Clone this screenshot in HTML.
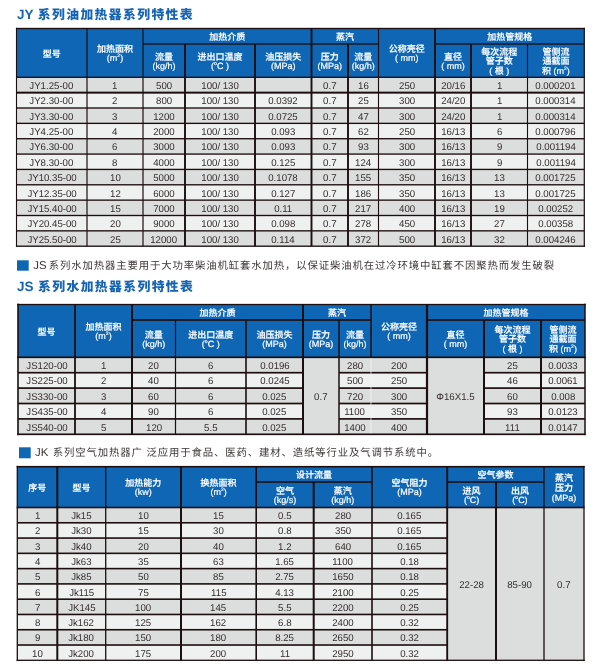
<!DOCTYPE html>
<html lang="zh-CN"><head><meta charset="utf-8"><title>加热器系列特性表</title>
<style>
html,body{margin:0;padding:0;background:#fff}
body{width:600px;height:670px;position:relative;overflow:hidden;font-family:"Liberation Sans","Noto Sans CJK SC",sans-serif;color:#2e2a2a}
svg{position:absolute;left:0;top:0}
.c{text-rendering:geometricPrecision;position:absolute;display:flex;align-items:center;justify-content:center;text-align:center;white-space:nowrap}
.d{font-size:9.8px;line-height:10px;color:#342e2e}
.d span{display:inline-block;transform:scaleX(.985)}
.h{font-size:9px;line-height:9px;color:#fff;font-weight:500;-webkit-text-stroke:.2px #fff}
.l3{line-height:9.4px}
.l4{line-height:10px}
.h sup{font-size:5px;line-height:0;vertical-align:4.2px}
.h sup.o{font-size:5px;vertical-align:4px}
.t{position:absolute;white-space:nowrap;font-weight:bold;font-size:13.5px;line-height:16px;color:#1563b3;text-rendering:geometricPrecision}
.t b{font-size:12.8px;letter-spacing:1.4px;margin-left:.8px}
.n{position:absolute;white-space:nowrap;font-size:11.4px;line-height:14px;font-weight:400;color:#3b3636;text-rendering:geometricPrecision}
.n i{font-style:normal;font-size:10.4px;letter-spacing:.86px;margin-left:-1px}
</style></head><body>
<svg width="600" height="670" viewBox="0 0 600 670">
<rect x="16.50" y="28.50" width="567.80" height="48.80" fill="#0e66b5"/>
<rect x="16.50" y="77.30" width="567.80" height="15.35" fill="#dcdddd"/>
<rect x="16.50" y="92.65" width="567.80" height="15.35" fill="#eff0f0"/>
<rect x="16.50" y="108.01" width="567.80" height="15.35" fill="#dcdddd"/>
<rect x="16.50" y="123.36" width="567.80" height="15.35" fill="#eff0f0"/>
<rect x="16.50" y="138.72" width="567.80" height="15.35" fill="#dcdddd"/>
<rect x="16.50" y="154.07" width="567.80" height="15.35" fill="#eff0f0"/>
<rect x="16.50" y="169.43" width="567.80" height="15.35" fill="#dcdddd"/>
<rect x="16.50" y="184.78" width="567.80" height="15.35" fill="#eff0f0"/>
<rect x="16.50" y="200.14" width="567.80" height="15.35" fill="#dcdddd"/>
<rect x="16.50" y="215.49" width="567.80" height="15.35" fill="#eff0f0"/>
<rect x="16.50" y="230.85" width="567.80" height="15.35" fill="#dcdddd"/>
<rect x="18.00" y="304.50" width="567.00" height="52.80" fill="#0e66b5"/>
<rect x="18.00" y="357.30" width="567.00" height="15.40" fill="#dcdddd"/>
<rect x="18.00" y="372.70" width="567.00" height="15.40" fill="#eff0f0"/>
<rect x="18.00" y="388.10" width="567.00" height="15.40" fill="#dcdddd"/>
<rect x="18.00" y="403.50" width="567.00" height="15.40" fill="#eff0f0"/>
<rect x="18.00" y="418.90" width="567.00" height="15.40" fill="#dcdddd"/>
<rect x="303.00" y="357.30" width="36.00" height="77.00" fill="#dcdddd"/>
<rect x="427.00" y="357.30" width="57.00" height="77.00" fill="#dcdddd"/>
<rect x="17.30" y="466.70" width="566.70" height="40.80" fill="#0e66b5"/>
<rect x="17.30" y="507.50" width="566.70" height="15.28" fill="#dcdddd"/>
<rect x="17.30" y="522.78" width="566.70" height="15.28" fill="#eff0f0"/>
<rect x="17.30" y="538.06" width="566.70" height="15.28" fill="#dcdddd"/>
<rect x="17.30" y="553.34" width="566.70" height="15.28" fill="#eff0f0"/>
<rect x="17.30" y="568.62" width="566.70" height="15.28" fill="#dcdddd"/>
<rect x="17.30" y="583.90" width="566.70" height="15.28" fill="#eff0f0"/>
<rect x="17.30" y="599.18" width="566.70" height="15.28" fill="#dcdddd"/>
<rect x="17.30" y="614.46" width="566.70" height="15.28" fill="#eff0f0"/>
<rect x="17.30" y="629.74" width="566.70" height="15.28" fill="#dcdddd"/>
<rect x="17.30" y="645.02" width="566.70" height="15.28" fill="#eff0f0"/>
<rect x="447.20" y="507.50" width="48.80" height="152.80" fill="#dcdddd"/>
<rect x="496.00" y="507.50" width="48.00" height="152.80" fill="#dcdddd"/>
<rect x="544.00" y="507.50" width="40.00" height="152.80" fill="#dcdddd"/>
<rect x="17.00" y="260.30" width="11.70" height="10.40" fill="#0e66b5"/>
<rect x="19.00" y="447.30" width="11.70" height="11.00" fill="#0e66b5"/>
<rect x="15.95" y="27.82" width="568.95" height="1.35" fill="#1d0f0f"/>
<rect x="143.00" y="43.33" width="168.50" height="1.35" fill="#1d0f0f"/>
<rect x="311.50" y="43.33" width="67.00" height="1.35" fill="#1d0f0f"/>
<rect x="435.00" y="43.33" width="149.30" height="1.35" fill="#1d0f0f"/>
<rect x="15.95" y="76.62" width="568.95" height="1.35" fill="#1d0f0f"/>
<rect x="16.50" y="91.65" width="567.80" height="2.00" fill="#1d0f0f"/>
<rect x="16.50" y="107.33" width="567.80" height="1.35" fill="#1d0f0f"/>
<rect x="16.50" y="122.69" width="567.80" height="1.35" fill="#1d0f0f"/>
<rect x="16.50" y="138.04" width="567.80" height="1.35" fill="#1d0f0f"/>
<rect x="16.50" y="153.40" width="567.80" height="1.35" fill="#1d0f0f"/>
<rect x="16.50" y="168.75" width="567.80" height="1.35" fill="#1d0f0f"/>
<rect x="16.50" y="184.11" width="567.80" height="1.35" fill="#1d0f0f"/>
<rect x="16.50" y="199.46" width="567.80" height="1.35" fill="#1d0f0f"/>
<rect x="16.50" y="214.82" width="567.80" height="1.35" fill="#1d0f0f"/>
<rect x="16.50" y="230.17" width="567.80" height="1.35" fill="#1d0f0f"/>
<rect x="15.95" y="245.52" width="568.95" height="1.35" fill="#1d0f0f"/>
<rect x="15.95" y="27.82" width="1.10" height="219.05" fill="#1d0f0f"/>
<rect x="86.40" y="28.50" width="1.20" height="217.70" fill="#1d0f0f"/>
<rect x="142.40" y="28.50" width="1.20" height="217.70" fill="#1d0f0f"/>
<rect x="184.05" y="44.00" width="1.90" height="202.20" fill="#1d0f0f"/>
<rect x="254.05" y="44.00" width="1.90" height="202.20" fill="#1d0f0f"/>
<rect x="310.55" y="28.50" width="1.90" height="217.70" fill="#1d0f0f"/>
<rect x="347.05" y="44.00" width="1.90" height="202.20" fill="#1d0f0f"/>
<rect x="377.95" y="28.50" width="1.10" height="217.70" fill="#1d0f0f"/>
<rect x="434.05" y="28.50" width="1.90" height="217.70" fill="#1d0f0f"/>
<rect x="470.05" y="44.00" width="1.90" height="202.20" fill="#1d0f0f"/>
<rect x="526.95" y="44.00" width="1.10" height="202.20" fill="#1d0f0f"/>
<rect x="583.70" y="27.82" width="1.20" height="219.05" fill="#1d0f0f"/>
<rect x="17.20" y="303.85" width="568.55" height="1.30" fill="#1d0f0f"/>
<rect x="132.00" y="319.15" width="171.00" height="1.70" fill="#1d0f0f"/>
<rect x="303.00" y="319.15" width="68.00" height="1.70" fill="#1d0f0f"/>
<rect x="427.00" y="319.15" width="158.00" height="1.70" fill="#1d0f0f"/>
<rect x="17.20" y="356.45" width="568.55" height="1.70" fill="#1d0f0f"/>
<rect x="18.00" y="371.85" width="285.00" height="1.70" fill="#1d0f0f"/>
<rect x="339.00" y="371.85" width="88.00" height="1.70" fill="#1d0f0f"/>
<rect x="484.00" y="371.85" width="101.00" height="1.70" fill="#1d0f0f"/>
<rect x="18.00" y="387.25" width="285.00" height="1.70" fill="#1d0f0f"/>
<rect x="339.00" y="387.25" width="88.00" height="1.70" fill="#1d0f0f"/>
<rect x="484.00" y="387.25" width="101.00" height="1.70" fill="#1d0f0f"/>
<rect x="18.00" y="402.65" width="285.00" height="1.70" fill="#1d0f0f"/>
<rect x="339.00" y="402.65" width="88.00" height="1.70" fill="#1d0f0f"/>
<rect x="484.00" y="402.65" width="101.00" height="1.70" fill="#1d0f0f"/>
<rect x="18.00" y="418.05" width="285.00" height="1.70" fill="#1d0f0f"/>
<rect x="339.00" y="418.05" width="88.00" height="1.70" fill="#1d0f0f"/>
<rect x="484.00" y="418.05" width="101.00" height="1.70" fill="#1d0f0f"/>
<rect x="17.20" y="433.45" width="568.55" height="1.70" fill="#1d0f0f"/>
<rect x="17.20" y="303.65" width="1.60" height="131.50" fill="#1d0f0f"/>
<rect x="74.10" y="304.50" width="1.80" height="129.80" fill="#1d0f0f"/>
<rect x="131.00" y="304.50" width="2.00" height="129.80" fill="#1d0f0f"/>
<rect x="174.90" y="320.00" width="1.20" height="114.30" fill="#1d0f0f"/>
<rect x="245.20" y="320.00" width="1.60" height="114.30" fill="#1d0f0f"/>
<rect x="302.00" y="304.50" width="2.00" height="129.80" fill="#1d0f0f"/>
<rect x="338.25" y="320.00" width="1.50" height="114.30" fill="#1d0f0f"/>
<rect x="370.25" y="304.50" width="1.50" height="52.80" fill="#1d0f0f"/>
<rect x="370.65" y="358.15" width="0.70" height="75.30" fill="#f4f4f4"/>
<rect x="425.90" y="304.50" width="2.20" height="129.80" fill="#1d0f0f"/>
<rect x="483.00" y="320.00" width="2.00" height="114.30" fill="#1d0f0f"/>
<rect x="540.00" y="320.00" width="2.00" height="114.30" fill="#1d0f0f"/>
<rect x="584.25" y="303.65" width="1.50" height="131.50" fill="#1d0f0f"/>
<rect x="16.65" y="465.90" width="568.00" height="1.60" fill="#1d0f0f"/>
<rect x="256.20" y="481.20" width="115.80" height="1.60" fill="#1d0f0f"/>
<rect x="447.20" y="481.20" width="96.80" height="1.60" fill="#1d0f0f"/>
<rect x="16.65" y="506.70" width="568.00" height="1.60" fill="#1d0f0f"/>
<rect x="17.30" y="521.98" width="429.90" height="1.60" fill="#1d0f0f"/>
<rect x="17.30" y="537.26" width="429.90" height="1.60" fill="#1d0f0f"/>
<rect x="17.30" y="552.54" width="429.90" height="1.60" fill="#1d0f0f"/>
<rect x="17.30" y="567.82" width="429.90" height="1.60" fill="#1d0f0f"/>
<rect x="17.30" y="583.10" width="429.90" height="1.60" fill="#1d0f0f"/>
<rect x="17.30" y="598.38" width="429.90" height="1.60" fill="#1d0f0f"/>
<rect x="17.30" y="613.66" width="429.90" height="1.60" fill="#1d0f0f"/>
<rect x="17.30" y="628.94" width="429.90" height="1.60" fill="#1d0f0f"/>
<rect x="17.30" y="644.22" width="429.90" height="1.60" fill="#1d0f0f"/>
<rect x="16.65" y="659.65" width="568.00" height="1.30" fill="#1d0f0f"/>
<rect x="16.65" y="465.90" width="1.30" height="195.20" fill="#1d0f0f"/>
<rect x="56.30" y="466.70" width="2.00" height="193.60" fill="#1d0f0f"/>
<rect x="105.05" y="466.70" width="1.30" height="193.60" fill="#1d0f0f"/>
<rect x="180.00" y="466.70" width="2.00" height="193.60" fill="#1d0f0f"/>
<rect x="255.40" y="466.70" width="1.60" height="193.60" fill="#1d0f0f"/>
<rect x="312.70" y="482.00" width="2.00" height="178.30" fill="#1d0f0f"/>
<rect x="371.20" y="466.70" width="1.60" height="193.60" fill="#1d0f0f"/>
<rect x="446.25" y="466.70" width="1.90" height="193.60" fill="#1d0f0f"/>
<rect x="495.00" y="482.00" width="2.00" height="178.30" fill="#1d0f0f"/>
<rect x="543.35" y="466.70" width="1.30" height="193.60" fill="#1d0f0f"/>
<rect x="583.35" y="465.90" width="1.30" height="195.20" fill="#1d0f0f"/>
</svg>
<div class="t" style="left:17px;top:7.2px">JY <b>系列油加热器系列特性表</b></div>
<div class="n" style="left:33.2px;top:259.4px">JS <i>系列水加热器主要用于大功率柴油机缸套水加热，以保证柴油机在过冷环境中缸套不因聚热而发生破裂</i></div>
<div class="t" style="left:17px;top:279.2px">JS <b>系列水加热器系列特性表</b></div>
<div class="n" style="left:35px;top:445.5px">JK <i style="margin-left:1.3px">系列空气加热器广 泛应用于食品、医药、建材、造纸等行业及气调节系统中。</i></div>
<div class="c h" style="left:16.50px;top:29.70px;width:70.50px;height:48.80px"><span>型号</span></div>
<div class="c h" style="left:87.00px;top:29.70px;width:56.00px;height:48.80px"><span>加热面积<br>(m<sup>2</sup>)</span></div>
<div class="c h" style="left:143.00px;top:29.70px;width:168.50px;height:15.50px"><span>加热介质</span></div>
<div class="c h" style="left:143.00px;top:45.20px;width:42.00px;height:33.30px"><span>流量<br>(kg/h)</span></div>
<div class="c h" style="left:185.00px;top:45.20px;width:70.00px;height:33.30px"><span>进出口温度<br>(<sup class="o">o</sup>C )</span></div>
<div class="c h" style="left:255.00px;top:45.20px;width:56.50px;height:33.30px"><span>油压损失<br>(MPa)</span></div>
<div class="c h" style="left:311.50px;top:29.70px;width:67.00px;height:15.50px"><span>蒸汽</span></div>
<div class="c h" style="left:311.50px;top:45.20px;width:36.50px;height:33.30px"><span>压力<br>(MPa)</span></div>
<div class="c h" style="left:348.00px;top:45.20px;width:30.50px;height:33.30px"><span>流量<br>(kg/h)</span></div>
<div class="c h" style="left:378.50px;top:29.70px;width:56.50px;height:48.80px"><span>公称壳径<br>( mm)</span></div>
<div class="c h" style="left:435.00px;top:29.70px;width:149.30px;height:15.50px"><span>加热管规格</span></div>
<div class="c h" style="left:435.00px;top:45.20px;width:36.00px;height:33.30px"><span>直径<br>( mm)</span></div>
<div class="c h l3" style="left:471.00px;top:45.20px;width:56.50px;height:33.30px"><span>每次流程<br>管子数<br>( 根 )</span></div>
<div class="c h l3" style="left:527.50px;top:45.20px;width:56.80px;height:33.30px"><span>管侧流<br>通截面<br>积 (m<sup>2</sup>)</span></div>
<div class="c d" style="left:16.50px;top:79.35px;width:70.50px;height:15.35px"><span>JY1.25-00</span></div>
<div class="c d" style="left:87.00px;top:79.35px;width:56.00px;height:15.35px"><span>1</span></div>
<div class="c d" style="left:143.00px;top:79.35px;width:42.00px;height:15.35px"><span>500</span></div>
<div class="c d" style="left:185.00px;top:79.35px;width:70.00px;height:15.35px"><span>100/ 130</span></div>
<div class="c d" style="left:311.50px;top:79.35px;width:36.50px;height:15.35px"><span>0.7</span></div>
<div class="c d" style="left:348.00px;top:79.35px;width:30.50px;height:15.35px"><span>16</span></div>
<div class="c d" style="left:378.50px;top:79.35px;width:56.50px;height:15.35px"><span>250</span></div>
<div class="c d" style="left:435.00px;top:79.35px;width:36.00px;height:15.35px"><span>20/16</span></div>
<div class="c d" style="left:471.00px;top:79.35px;width:56.50px;height:15.35px"><span>1</span></div>
<div class="c d" style="left:527.50px;top:79.35px;width:56.80px;height:15.35px"><span>0.000201</span></div>
<div class="c d" style="left:16.50px;top:94.70px;width:70.50px;height:15.35px"><span>JY2.30-00</span></div>
<div class="c d" style="left:87.00px;top:94.70px;width:56.00px;height:15.35px"><span>2</span></div>
<div class="c d" style="left:143.00px;top:94.70px;width:42.00px;height:15.35px"><span>800</span></div>
<div class="c d" style="left:185.00px;top:94.70px;width:70.00px;height:15.35px"><span>100/ 130</span></div>
<div class="c d" style="left:255.00px;top:94.70px;width:56.50px;height:15.35px"><span>0.0392</span></div>
<div class="c d" style="left:311.50px;top:94.70px;width:36.50px;height:15.35px"><span>0.7</span></div>
<div class="c d" style="left:348.00px;top:94.70px;width:30.50px;height:15.35px"><span>25</span></div>
<div class="c d" style="left:378.50px;top:94.70px;width:56.50px;height:15.35px"><span>300</span></div>
<div class="c d" style="left:435.00px;top:94.70px;width:36.00px;height:15.35px"><span>24/20</span></div>
<div class="c d" style="left:471.00px;top:94.70px;width:56.50px;height:15.35px"><span>1</span></div>
<div class="c d" style="left:527.50px;top:94.70px;width:56.80px;height:15.35px"><span>0.000314</span></div>
<div class="c d" style="left:16.50px;top:110.06px;width:70.50px;height:15.35px"><span>JY3.30-00</span></div>
<div class="c d" style="left:87.00px;top:110.06px;width:56.00px;height:15.35px"><span>3</span></div>
<div class="c d" style="left:143.00px;top:110.06px;width:42.00px;height:15.35px"><span>1200</span></div>
<div class="c d" style="left:185.00px;top:110.06px;width:70.00px;height:15.35px"><span>100/ 130</span></div>
<div class="c d" style="left:255.00px;top:110.06px;width:56.50px;height:15.35px"><span>0.0725</span></div>
<div class="c d" style="left:311.50px;top:110.06px;width:36.50px;height:15.35px"><span>0.7</span></div>
<div class="c d" style="left:348.00px;top:110.06px;width:30.50px;height:15.35px"><span>47</span></div>
<div class="c d" style="left:378.50px;top:110.06px;width:56.50px;height:15.35px"><span>300</span></div>
<div class="c d" style="left:435.00px;top:110.06px;width:36.00px;height:15.35px"><span>24/20</span></div>
<div class="c d" style="left:471.00px;top:110.06px;width:56.50px;height:15.35px"><span>1</span></div>
<div class="c d" style="left:527.50px;top:110.06px;width:56.80px;height:15.35px"><span>0.000314</span></div>
<div class="c d" style="left:16.50px;top:125.41px;width:70.50px;height:15.35px"><span>JY4.25-00</span></div>
<div class="c d" style="left:87.00px;top:125.41px;width:56.00px;height:15.35px"><span>4</span></div>
<div class="c d" style="left:143.00px;top:125.41px;width:42.00px;height:15.35px"><span>2000</span></div>
<div class="c d" style="left:185.00px;top:125.41px;width:70.00px;height:15.35px"><span>100/ 130</span></div>
<div class="c d" style="left:255.00px;top:125.41px;width:56.50px;height:15.35px"><span>0.093</span></div>
<div class="c d" style="left:311.50px;top:125.41px;width:36.50px;height:15.35px"><span>0.7</span></div>
<div class="c d" style="left:348.00px;top:125.41px;width:30.50px;height:15.35px"><span>62</span></div>
<div class="c d" style="left:378.50px;top:125.41px;width:56.50px;height:15.35px"><span>250</span></div>
<div class="c d" style="left:435.00px;top:125.41px;width:36.00px;height:15.35px"><span>16/13</span></div>
<div class="c d" style="left:471.00px;top:125.41px;width:56.50px;height:15.35px"><span>6</span></div>
<div class="c d" style="left:527.50px;top:125.41px;width:56.80px;height:15.35px"><span>0.000796</span></div>
<div class="c d" style="left:16.50px;top:140.77px;width:70.50px;height:15.35px"><span>JY6.30-00</span></div>
<div class="c d" style="left:87.00px;top:140.77px;width:56.00px;height:15.35px"><span>6</span></div>
<div class="c d" style="left:143.00px;top:140.77px;width:42.00px;height:15.35px"><span>3000</span></div>
<div class="c d" style="left:185.00px;top:140.77px;width:70.00px;height:15.35px"><span>100/ 130</span></div>
<div class="c d" style="left:255.00px;top:140.77px;width:56.50px;height:15.35px"><span>0.093</span></div>
<div class="c d" style="left:311.50px;top:140.77px;width:36.50px;height:15.35px"><span>0.7</span></div>
<div class="c d" style="left:348.00px;top:140.77px;width:30.50px;height:15.35px"><span>93</span></div>
<div class="c d" style="left:378.50px;top:140.77px;width:56.50px;height:15.35px"><span>300</span></div>
<div class="c d" style="left:435.00px;top:140.77px;width:36.00px;height:15.35px"><span>16/13</span></div>
<div class="c d" style="left:471.00px;top:140.77px;width:56.50px;height:15.35px"><span>9</span></div>
<div class="c d" style="left:527.50px;top:140.77px;width:56.80px;height:15.35px"><span>0.001194</span></div>
<div class="c d" style="left:16.50px;top:156.12px;width:70.50px;height:15.35px"><span>JY8.30-00</span></div>
<div class="c d" style="left:87.00px;top:156.12px;width:56.00px;height:15.35px"><span>8</span></div>
<div class="c d" style="left:143.00px;top:156.12px;width:42.00px;height:15.35px"><span>4000</span></div>
<div class="c d" style="left:185.00px;top:156.12px;width:70.00px;height:15.35px"><span>100/ 130</span></div>
<div class="c d" style="left:255.00px;top:156.12px;width:56.50px;height:15.35px"><span>0.125</span></div>
<div class="c d" style="left:311.50px;top:156.12px;width:36.50px;height:15.35px"><span>0.7</span></div>
<div class="c d" style="left:348.00px;top:156.12px;width:30.50px;height:15.35px"><span>124</span></div>
<div class="c d" style="left:378.50px;top:156.12px;width:56.50px;height:15.35px"><span>300</span></div>
<div class="c d" style="left:435.00px;top:156.12px;width:36.00px;height:15.35px"><span>16/13</span></div>
<div class="c d" style="left:471.00px;top:156.12px;width:56.50px;height:15.35px"><span>9</span></div>
<div class="c d" style="left:527.50px;top:156.12px;width:56.80px;height:15.35px"><span>0.001194</span></div>
<div class="c d" style="left:16.50px;top:171.48px;width:70.50px;height:15.35px"><span>JY10.35-00</span></div>
<div class="c d" style="left:87.00px;top:171.48px;width:56.00px;height:15.35px"><span>10</span></div>
<div class="c d" style="left:143.00px;top:171.48px;width:42.00px;height:15.35px"><span>5000</span></div>
<div class="c d" style="left:185.00px;top:171.48px;width:70.00px;height:15.35px"><span>100/ 130</span></div>
<div class="c d" style="left:255.00px;top:171.48px;width:56.50px;height:15.35px"><span>0.1078</span></div>
<div class="c d" style="left:311.50px;top:171.48px;width:36.50px;height:15.35px"><span>0.7</span></div>
<div class="c d" style="left:348.00px;top:171.48px;width:30.50px;height:15.35px"><span>155</span></div>
<div class="c d" style="left:378.50px;top:171.48px;width:56.50px;height:15.35px"><span>350</span></div>
<div class="c d" style="left:435.00px;top:171.48px;width:36.00px;height:15.35px"><span>16/13</span></div>
<div class="c d" style="left:471.00px;top:171.48px;width:56.50px;height:15.35px"><span>13</span></div>
<div class="c d" style="left:527.50px;top:171.48px;width:56.80px;height:15.35px"><span>0.001725</span></div>
<div class="c d" style="left:16.50px;top:186.83px;width:70.50px;height:15.35px"><span>JY12.35-00</span></div>
<div class="c d" style="left:87.00px;top:186.83px;width:56.00px;height:15.35px"><span>12</span></div>
<div class="c d" style="left:143.00px;top:186.83px;width:42.00px;height:15.35px"><span>6000</span></div>
<div class="c d" style="left:185.00px;top:186.83px;width:70.00px;height:15.35px"><span>100/ 130</span></div>
<div class="c d" style="left:255.00px;top:186.83px;width:56.50px;height:15.35px"><span>0.127</span></div>
<div class="c d" style="left:311.50px;top:186.83px;width:36.50px;height:15.35px"><span>0.7</span></div>
<div class="c d" style="left:348.00px;top:186.83px;width:30.50px;height:15.35px"><span>186</span></div>
<div class="c d" style="left:378.50px;top:186.83px;width:56.50px;height:15.35px"><span>350</span></div>
<div class="c d" style="left:435.00px;top:186.83px;width:36.00px;height:15.35px"><span>16/13</span></div>
<div class="c d" style="left:471.00px;top:186.83px;width:56.50px;height:15.35px"><span>13</span></div>
<div class="c d" style="left:527.50px;top:186.83px;width:56.80px;height:15.35px"><span>0.001725</span></div>
<div class="c d" style="left:16.50px;top:202.19px;width:70.50px;height:15.35px"><span>JY15.40-00</span></div>
<div class="c d" style="left:87.00px;top:202.19px;width:56.00px;height:15.35px"><span>15</span></div>
<div class="c d" style="left:143.00px;top:202.19px;width:42.00px;height:15.35px"><span>7000</span></div>
<div class="c d" style="left:185.00px;top:202.19px;width:70.00px;height:15.35px"><span>100/ 130</span></div>
<div class="c d" style="left:255.00px;top:202.19px;width:56.50px;height:15.35px"><span>0.11</span></div>
<div class="c d" style="left:311.50px;top:202.19px;width:36.50px;height:15.35px"><span>0.7</span></div>
<div class="c d" style="left:348.00px;top:202.19px;width:30.50px;height:15.35px"><span>217</span></div>
<div class="c d" style="left:378.50px;top:202.19px;width:56.50px;height:15.35px"><span>400</span></div>
<div class="c d" style="left:435.00px;top:202.19px;width:36.00px;height:15.35px"><span>16/13</span></div>
<div class="c d" style="left:471.00px;top:202.19px;width:56.50px;height:15.35px"><span>19</span></div>
<div class="c d" style="left:527.50px;top:202.19px;width:56.80px;height:15.35px"><span>0.00252</span></div>
<div class="c d" style="left:16.50px;top:217.54px;width:70.50px;height:15.35px"><span>JY20.45-00</span></div>
<div class="c d" style="left:87.00px;top:217.54px;width:56.00px;height:15.35px"><span>20</span></div>
<div class="c d" style="left:143.00px;top:217.54px;width:42.00px;height:15.35px"><span>9000</span></div>
<div class="c d" style="left:185.00px;top:217.54px;width:70.00px;height:15.35px"><span>100/ 130</span></div>
<div class="c d" style="left:255.00px;top:217.54px;width:56.50px;height:15.35px"><span>0.098</span></div>
<div class="c d" style="left:311.50px;top:217.54px;width:36.50px;height:15.35px"><span>0.7</span></div>
<div class="c d" style="left:348.00px;top:217.54px;width:30.50px;height:15.35px"><span>278</span></div>
<div class="c d" style="left:378.50px;top:217.54px;width:56.50px;height:15.35px"><span>450</span></div>
<div class="c d" style="left:435.00px;top:217.54px;width:36.00px;height:15.35px"><span>16/13</span></div>
<div class="c d" style="left:471.00px;top:217.54px;width:56.50px;height:15.35px"><span>27</span></div>
<div class="c d" style="left:527.50px;top:217.54px;width:56.80px;height:15.35px"><span>0.00358</span></div>
<div class="c d" style="left:16.50px;top:232.90px;width:70.50px;height:15.35px"><span>JY25.50-00</span></div>
<div class="c d" style="left:87.00px;top:232.90px;width:56.00px;height:15.35px"><span>25</span></div>
<div class="c d" style="left:143.00px;top:232.90px;width:42.00px;height:15.35px"><span>12000</span></div>
<div class="c d" style="left:185.00px;top:232.90px;width:70.00px;height:15.35px"><span>100/ 130</span></div>
<div class="c d" style="left:255.00px;top:232.90px;width:56.50px;height:15.35px"><span>0.114</span></div>
<div class="c d" style="left:311.50px;top:232.90px;width:36.50px;height:15.35px"><span>0.7</span></div>
<div class="c d" style="left:348.00px;top:232.90px;width:30.50px;height:15.35px"><span>372</span></div>
<div class="c d" style="left:378.50px;top:232.90px;width:56.50px;height:15.35px"><span>500</span></div>
<div class="c d" style="left:435.00px;top:232.90px;width:36.00px;height:15.35px"><span>16/13</span></div>
<div class="c d" style="left:471.00px;top:232.90px;width:56.50px;height:15.35px"><span>32</span></div>
<div class="c d" style="left:527.50px;top:232.90px;width:56.80px;height:15.35px"><span>0.004246</span></div>
<div class="c h" style="left:18.00px;top:305.70px;width:57.00px;height:52.80px"><span>型号</span></div>
<div class="c h" style="left:75.00px;top:305.70px;width:57.00px;height:52.80px"><span>加热面积<br>(m<sup>2</sup>)</span></div>
<div class="c h" style="left:132.00px;top:305.70px;width:171.00px;height:15.50px"><span>加热介质</span></div>
<div class="c h" style="left:132.00px;top:321.20px;width:43.50px;height:37.30px"><span>流量<br>(kg/h)</span></div>
<div class="c h" style="left:175.50px;top:321.20px;width:70.50px;height:37.30px"><span>进出口温度<br>(<sup class="o">o</sup>C )</span></div>
<div class="c h" style="left:246.00px;top:321.20px;width:57.00px;height:37.30px"><span>油压损失<br>(MPa)</span></div>
<div class="c h" style="left:303.00px;top:305.70px;width:68.00px;height:15.50px"><span>蒸汽</span></div>
<div class="c h" style="left:303.00px;top:321.20px;width:36.00px;height:37.30px"><span>压力<br>(MPa)</span></div>
<div class="c h" style="left:339.00px;top:321.20px;width:32.00px;height:37.30px"><span>流量<br>(kg/h)</span></div>
<div class="c h" style="left:371.00px;top:305.70px;width:56.00px;height:52.80px"><span>公称壳径<br>( mm)</span></div>
<div class="c h" style="left:427.00px;top:305.70px;width:158.00px;height:15.50px"><span>加热管规格</span></div>
<div class="c h" style="left:427.00px;top:321.20px;width:57.00px;height:37.30px"><span>直径<br>( mm)</span></div>
<div class="c h l3" style="left:484.00px;top:321.20px;width:57.00px;height:37.30px"><span>每次流程<br>管子数<br>( 根 )</span></div>
<div class="c h l3" style="left:541.00px;top:321.20px;width:44.00px;height:37.30px"><span>管侧流<br>通截面<br>积 (m<sup>2</sup>)</span></div>
<div class="c d" style="left:18.00px;top:359.35px;width:57.00px;height:15.40px"><span>JS120-00</span></div>
<div class="c d" style="left:75.00px;top:359.35px;width:57.00px;height:15.40px"><span>1</span></div>
<div class="c d" style="left:132.00px;top:359.35px;width:43.50px;height:15.40px"><span>20</span></div>
<div class="c d" style="left:175.50px;top:359.35px;width:70.50px;height:15.40px"><span>6</span></div>
<div class="c d" style="left:246.00px;top:359.35px;width:57.00px;height:15.40px"><span>0.0196</span></div>
<div class="c d" style="left:339.00px;top:359.35px;width:32.00px;height:15.40px"><span>280</span></div>
<div class="c d" style="left:371.00px;top:359.35px;width:56.00px;height:15.40px"><span>200</span></div>
<div class="c d" style="left:484.00px;top:359.35px;width:57.00px;height:15.40px"><span>25</span></div>
<div class="c d" style="left:541.00px;top:359.35px;width:44.00px;height:15.40px"><span>0.0033</span></div>
<div class="c d" style="left:18.00px;top:374.75px;width:57.00px;height:15.40px"><span>JS225-00</span></div>
<div class="c d" style="left:75.00px;top:374.75px;width:57.00px;height:15.40px"><span>2</span></div>
<div class="c d" style="left:132.00px;top:374.75px;width:43.50px;height:15.40px"><span>40</span></div>
<div class="c d" style="left:175.50px;top:374.75px;width:70.50px;height:15.40px"><span>6</span></div>
<div class="c d" style="left:246.00px;top:374.75px;width:57.00px;height:15.40px"><span>0.0245</span></div>
<div class="c d" style="left:339.00px;top:374.75px;width:32.00px;height:15.40px"><span>500</span></div>
<div class="c d" style="left:371.00px;top:374.75px;width:56.00px;height:15.40px"><span>250</span></div>
<div class="c d" style="left:484.00px;top:374.75px;width:57.00px;height:15.40px"><span>46</span></div>
<div class="c d" style="left:541.00px;top:374.75px;width:44.00px;height:15.40px"><span>0.0061</span></div>
<div class="c d" style="left:18.00px;top:390.15px;width:57.00px;height:15.40px"><span>JS330-00</span></div>
<div class="c d" style="left:75.00px;top:390.15px;width:57.00px;height:15.40px"><span>3</span></div>
<div class="c d" style="left:132.00px;top:390.15px;width:43.50px;height:15.40px"><span>60</span></div>
<div class="c d" style="left:175.50px;top:390.15px;width:70.50px;height:15.40px"><span>6</span></div>
<div class="c d" style="left:246.00px;top:390.15px;width:57.00px;height:15.40px"><span>0.025</span></div>
<div class="c d" style="left:339.00px;top:390.15px;width:32.00px;height:15.40px"><span>720</span></div>
<div class="c d" style="left:371.00px;top:390.15px;width:56.00px;height:15.40px"><span>300</span></div>
<div class="c d" style="left:484.00px;top:390.15px;width:57.00px;height:15.40px"><span>60</span></div>
<div class="c d" style="left:541.00px;top:390.15px;width:44.00px;height:15.40px"><span>0.008</span></div>
<div class="c d" style="left:18.00px;top:405.55px;width:57.00px;height:15.40px"><span>JS435-00</span></div>
<div class="c d" style="left:75.00px;top:405.55px;width:57.00px;height:15.40px"><span>4</span></div>
<div class="c d" style="left:132.00px;top:405.55px;width:43.50px;height:15.40px"><span>90</span></div>
<div class="c d" style="left:175.50px;top:405.55px;width:70.50px;height:15.40px"><span>6</span></div>
<div class="c d" style="left:246.00px;top:405.55px;width:57.00px;height:15.40px"><span>0.025</span></div>
<div class="c d" style="left:339.00px;top:405.55px;width:32.00px;height:15.40px"><span>1100</span></div>
<div class="c d" style="left:371.00px;top:405.55px;width:56.00px;height:15.40px"><span>350</span></div>
<div class="c d" style="left:484.00px;top:405.55px;width:57.00px;height:15.40px"><span>93</span></div>
<div class="c d" style="left:541.00px;top:405.55px;width:44.00px;height:15.40px"><span>0.0123</span></div>
<div class="c d" style="left:18.00px;top:420.95px;width:57.00px;height:15.40px"><span>JS540-00</span></div>
<div class="c d" style="left:75.00px;top:420.95px;width:57.00px;height:15.40px"><span>5</span></div>
<div class="c d" style="left:132.00px;top:420.95px;width:43.50px;height:15.40px"><span>120</span></div>
<div class="c d" style="left:175.50px;top:420.95px;width:70.50px;height:15.40px"><span>5.5</span></div>
<div class="c d" style="left:246.00px;top:420.95px;width:57.00px;height:15.40px"><span>0.025</span></div>
<div class="c d" style="left:339.00px;top:420.95px;width:32.00px;height:15.40px"><span>1400</span></div>
<div class="c d" style="left:371.00px;top:420.95px;width:56.00px;height:15.40px"><span>400</span></div>
<div class="c d" style="left:484.00px;top:420.95px;width:57.00px;height:15.40px"><span>111</span></div>
<div class="c d" style="left:541.00px;top:420.95px;width:44.00px;height:15.40px"><span>0.0147</span></div>
<div class="c d" style="left:303.00px;top:359.35px;width:36.00px;height:77.00px"><span>0.7</span></div>
<div class="c d" style="left:427.00px;top:359.35px;width:57.00px;height:77.00px"><span>Φ16X1.5</span></div>
<div class="c h" style="left:17.30px;top:467.90px;width:40.00px;height:40.80px"><span>序号</span></div>
<div class="c h" style="left:57.30px;top:467.90px;width:48.40px;height:40.80px"><span>型号</span></div>
<div class="c h" style="left:105.70px;top:467.90px;width:75.30px;height:40.80px"><span>加热能力<br>(kw)</span></div>
<div class="c h" style="left:181.00px;top:467.90px;width:75.20px;height:40.80px"><span>换热面积<br>(m<sup>2</sup>)</span></div>
<div class="c h" style="left:256.20px;top:467.90px;width:115.80px;height:15.30px"><span>设计流量</span></div>
<div class="c h" style="left:256.20px;top:483.20px;width:57.50px;height:25.50px"><span>空气<br>(kg/s)</span></div>
<div class="c h" style="left:313.70px;top:483.20px;width:58.30px;height:25.50px"><span>蒸汽<br>(kg/h)</span></div>
<div class="c h" style="left:372.00px;top:467.90px;width:75.20px;height:40.80px"><span>空气阻力<br>(MPa)</span></div>
<div class="c h" style="left:447.20px;top:467.90px;width:96.80px;height:15.30px"><span>空气参数</span></div>
<div class="c h" style="left:447.20px;top:483.20px;width:48.80px;height:25.50px"><span>进风<br>(<sup class="o">o</sup>C)</span></div>
<div class="c h" style="left:496.00px;top:483.20px;width:48.00px;height:25.50px"><span>出风<br>(<sup class="o">o</sup>C)</span></div>
<div class="c h l4" style="left:544.00px;top:467.90px;width:40.00px;height:40.80px"><span>蒸汽<br>压力<br>(MPa)</span></div>
<div class="c d" style="left:17.30px;top:509.55px;width:40.00px;height:15.28px"><span>1</span></div>
<div class="c d" style="left:57.30px;top:509.55px;width:48.40px;height:15.28px"><span>Jk15</span></div>
<div class="c d" style="left:105.70px;top:509.55px;width:75.30px;height:15.28px"><span>10</span></div>
<div class="c d" style="left:181.00px;top:509.55px;width:75.20px;height:15.28px"><span>15</span></div>
<div class="c d" style="left:256.20px;top:509.55px;width:57.50px;height:15.28px"><span>0.5</span></div>
<div class="c d" style="left:313.70px;top:509.55px;width:58.30px;height:15.28px"><span>280</span></div>
<div class="c d" style="left:372.00px;top:509.55px;width:75.20px;height:15.28px"><span>0.165</span></div>
<div class="c d" style="left:17.30px;top:524.83px;width:40.00px;height:15.28px"><span>2</span></div>
<div class="c d" style="left:57.30px;top:524.83px;width:48.40px;height:15.28px"><span>Jk30</span></div>
<div class="c d" style="left:105.70px;top:524.83px;width:75.30px;height:15.28px"><span>15</span></div>
<div class="c d" style="left:181.00px;top:524.83px;width:75.20px;height:15.28px"><span>30</span></div>
<div class="c d" style="left:256.20px;top:524.83px;width:57.50px;height:15.28px"><span>0.8</span></div>
<div class="c d" style="left:313.70px;top:524.83px;width:58.30px;height:15.28px"><span>350</span></div>
<div class="c d" style="left:372.00px;top:524.83px;width:75.20px;height:15.28px"><span>0.165</span></div>
<div class="c d" style="left:17.30px;top:540.11px;width:40.00px;height:15.28px"><span>3</span></div>
<div class="c d" style="left:57.30px;top:540.11px;width:48.40px;height:15.28px"><span>Jk40</span></div>
<div class="c d" style="left:105.70px;top:540.11px;width:75.30px;height:15.28px"><span>20</span></div>
<div class="c d" style="left:181.00px;top:540.11px;width:75.20px;height:15.28px"><span>40</span></div>
<div class="c d" style="left:256.20px;top:540.11px;width:57.50px;height:15.28px"><span>1.2</span></div>
<div class="c d" style="left:313.70px;top:540.11px;width:58.30px;height:15.28px"><span>640</span></div>
<div class="c d" style="left:372.00px;top:540.11px;width:75.20px;height:15.28px"><span>0.165</span></div>
<div class="c d" style="left:17.30px;top:555.39px;width:40.00px;height:15.28px"><span>4</span></div>
<div class="c d" style="left:57.30px;top:555.39px;width:48.40px;height:15.28px"><span>Jk63</span></div>
<div class="c d" style="left:105.70px;top:555.39px;width:75.30px;height:15.28px"><span>35</span></div>
<div class="c d" style="left:181.00px;top:555.39px;width:75.20px;height:15.28px"><span>63</span></div>
<div class="c d" style="left:256.20px;top:555.39px;width:57.50px;height:15.28px"><span>1.65</span></div>
<div class="c d" style="left:313.70px;top:555.39px;width:58.30px;height:15.28px"><span>1100</span></div>
<div class="c d" style="left:372.00px;top:555.39px;width:75.20px;height:15.28px"><span>0.18</span></div>
<div class="c d" style="left:17.30px;top:570.67px;width:40.00px;height:15.28px"><span>5</span></div>
<div class="c d" style="left:57.30px;top:570.67px;width:48.40px;height:15.28px"><span>Jk85</span></div>
<div class="c d" style="left:105.70px;top:570.67px;width:75.30px;height:15.28px"><span>50</span></div>
<div class="c d" style="left:181.00px;top:570.67px;width:75.20px;height:15.28px"><span>85</span></div>
<div class="c d" style="left:256.20px;top:570.67px;width:57.50px;height:15.28px"><span>2.75</span></div>
<div class="c d" style="left:313.70px;top:570.67px;width:58.30px;height:15.28px"><span>1650</span></div>
<div class="c d" style="left:372.00px;top:570.67px;width:75.20px;height:15.28px"><span>0.18</span></div>
<div class="c d" style="left:17.30px;top:585.95px;width:40.00px;height:15.28px"><span>6</span></div>
<div class="c d" style="left:57.30px;top:585.95px;width:48.40px;height:15.28px"><span>Jk115</span></div>
<div class="c d" style="left:105.70px;top:585.95px;width:75.30px;height:15.28px"><span>75</span></div>
<div class="c d" style="left:181.00px;top:585.95px;width:75.20px;height:15.28px"><span>115</span></div>
<div class="c d" style="left:256.20px;top:585.95px;width:57.50px;height:15.28px"><span>4.13</span></div>
<div class="c d" style="left:313.70px;top:585.95px;width:58.30px;height:15.28px"><span>2100</span></div>
<div class="c d" style="left:372.00px;top:585.95px;width:75.20px;height:15.28px"><span>0.25</span></div>
<div class="c d" style="left:17.30px;top:601.23px;width:40.00px;height:15.28px"><span>7</span></div>
<div class="c d" style="left:57.30px;top:601.23px;width:48.40px;height:15.28px"><span>JK145</span></div>
<div class="c d" style="left:105.70px;top:601.23px;width:75.30px;height:15.28px"><span>100</span></div>
<div class="c d" style="left:181.00px;top:601.23px;width:75.20px;height:15.28px"><span>145</span></div>
<div class="c d" style="left:256.20px;top:601.23px;width:57.50px;height:15.28px"><span>5.5</span></div>
<div class="c d" style="left:313.70px;top:601.23px;width:58.30px;height:15.28px"><span>2200</span></div>
<div class="c d" style="left:372.00px;top:601.23px;width:75.20px;height:15.28px"><span>0.25</span></div>
<div class="c d" style="left:17.30px;top:616.51px;width:40.00px;height:15.28px"><span>8</span></div>
<div class="c d" style="left:57.30px;top:616.51px;width:48.40px;height:15.28px"><span>Jk162</span></div>
<div class="c d" style="left:105.70px;top:616.51px;width:75.30px;height:15.28px"><span>125</span></div>
<div class="c d" style="left:181.00px;top:616.51px;width:75.20px;height:15.28px"><span>162</span></div>
<div class="c d" style="left:256.20px;top:616.51px;width:57.50px;height:15.28px"><span>6.8</span></div>
<div class="c d" style="left:313.70px;top:616.51px;width:58.30px;height:15.28px"><span>2400</span></div>
<div class="c d" style="left:372.00px;top:616.51px;width:75.20px;height:15.28px"><span>0.32</span></div>
<div class="c d" style="left:17.30px;top:631.79px;width:40.00px;height:15.28px"><span>9</span></div>
<div class="c d" style="left:57.30px;top:631.79px;width:48.40px;height:15.28px"><span>Jk180</span></div>
<div class="c d" style="left:105.70px;top:631.79px;width:75.30px;height:15.28px"><span>150</span></div>
<div class="c d" style="left:181.00px;top:631.79px;width:75.20px;height:15.28px"><span>180</span></div>
<div class="c d" style="left:256.20px;top:631.79px;width:57.50px;height:15.28px"><span>8.25</span></div>
<div class="c d" style="left:313.70px;top:631.79px;width:58.30px;height:15.28px"><span>2650</span></div>
<div class="c d" style="left:372.00px;top:631.79px;width:75.20px;height:15.28px"><span>0.32</span></div>
<div class="c d" style="left:17.30px;top:647.07px;width:40.00px;height:15.28px"><span>10</span></div>
<div class="c d" style="left:57.30px;top:647.07px;width:48.40px;height:15.28px"><span>Jk200</span></div>
<div class="c d" style="left:105.70px;top:647.07px;width:75.30px;height:15.28px"><span>175</span></div>
<div class="c d" style="left:181.00px;top:647.07px;width:75.20px;height:15.28px"><span>200</span></div>
<div class="c d" style="left:256.20px;top:647.07px;width:57.50px;height:15.28px"><span>11</span></div>
<div class="c d" style="left:313.70px;top:647.07px;width:58.30px;height:15.28px"><span>2950</span></div>
<div class="c d" style="left:372.00px;top:647.07px;width:75.20px;height:15.28px"><span>0.32</span></div>
<div class="c d" style="left:447.20px;top:509.55px;width:48.80px;height:152.80px"><span>22-28</span></div>
<div class="c d" style="left:496.00px;top:509.55px;width:48.00px;height:152.80px"><span>85-90</span></div>
<div class="c d" style="left:544.00px;top:509.55px;width:40.00px;height:152.80px"><span>0.7</span></div>
</body></html>
